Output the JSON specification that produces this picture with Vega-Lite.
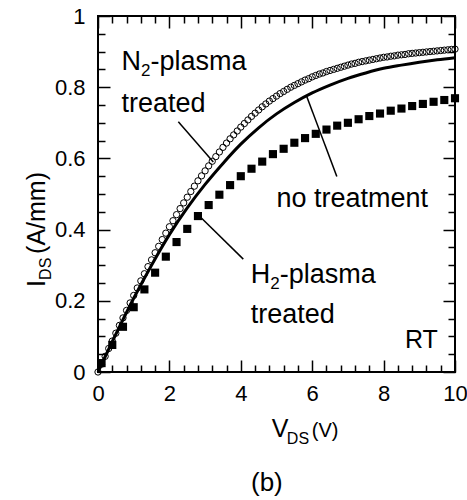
{
  "$schema": "https://vega.github.io/schema/vega-lite/v6.json",
  "width": 357,
  "height": 356,
  "autosize": "none",
  "padding": {"left": 98, "top": 16, "right": 12, "bottom": 128},
  "background": "white",
  "config": {
    "view": {"stroke": "black", "strokeWidth": 2, "fill": "transparent"},
    "axis": {"grid": false, "domain": true, "domainColor": "black", "domainWidth": 2, "ticks": true, "tickColor": "black", "tickWidth": 1.5, "tickOpacity": 1, "labelColor": "black", "labelFont": "Liberation Sans", "labelFontSize": 22, "labelFlush": false, "zindex": 1},
    "text": {"font": "Liberation Sans", "color": "black"}
  },
  "datasets": {
    "n2": [{"V":0,"I":0},{"V":0.1,"I":0.022},{"V":0.2,"I":0.044},{"V":0.3,"I":0.066},{"V":0.4,"I":0.087},{"V":0.5,"I":0.109},{"V":0.6,"I":0.131},{"V":0.7,"I":0.152},{"V":0.8,"I":0.173},{"V":0.9,"I":0.194},{"V":1,"I":0.215},{"V":1.1,"I":0.236},{"V":1.2,"I":0.256},{"V":1.3,"I":0.276},{"V":1.4,"I":0.296},{"V":1.5,"I":0.315},{"V":1.6,"I":0.335},{"V":1.7,"I":0.353},{"V":1.8,"I":0.372},{"V":1.9,"I":0.39},{"V":2,"I":0.408},{"V":2.1,"I":0.425},{"V":2.2,"I":0.442},{"V":2.3,"I":0.459},{"V":2.4,"I":0.475},{"V":2.5,"I":0.491},{"V":2.6,"I":0.507},{"V":2.7,"I":0.522},{"V":2.8,"I":0.537},{"V":2.9,"I":0.551},{"V":3,"I":0.565},{"V":3.1,"I":0.579},{"V":3.2,"I":0.592},{"V":3.3,"I":0.605},{"V":3.4,"I":0.618},{"V":3.5,"I":0.631},{"V":3.6,"I":0.643},{"V":3.7,"I":0.655},{"V":3.8,"I":0.666},{"V":3.9,"I":0.677},{"V":4,"I":0.688},{"V":4.1,"I":0.698},{"V":4.2,"I":0.708},{"V":4.3,"I":0.718},{"V":4.4,"I":0.727},{"V":4.5,"I":0.736},{"V":4.6,"I":0.745},{"V":4.7,"I":0.753},{"V":4.8,"I":0.761},{"V":4.9,"I":0.768},{"V":5,"I":0.775},{"V":5.1,"I":0.782},{"V":5.2,"I":0.788},{"V":5.3,"I":0.794},{"V":5.4,"I":0.8},{"V":5.5,"I":0.805},{"V":5.6,"I":0.81},{"V":5.7,"I":0.815},{"V":5.8,"I":0.82},{"V":5.9,"I":0.824},{"V":6,"I":0.829},{"V":6.1,"I":0.833},{"V":6.2,"I":0.837},{"V":6.3,"I":0.84},{"V":6.4,"I":0.844},{"V":6.5,"I":0.847},{"V":6.6,"I":0.85},{"V":6.7,"I":0.853},{"V":6.8,"I":0.856},{"V":6.9,"I":0.859},{"V":7,"I":0.862},{"V":7.1,"I":0.865},{"V":7.2,"I":0.867},{"V":7.3,"I":0.87},{"V":7.4,"I":0.872},{"V":7.5,"I":0.874},{"V":7.6,"I":0.876},{"V":7.7,"I":0.878},{"V":7.8,"I":0.88},{"V":7.9,"I":0.882},{"V":8,"I":0.884},{"V":8.1,"I":0.885},{"V":8.2,"I":0.887},{"V":8.3,"I":0.888},{"V":8.4,"I":0.89},{"V":8.5,"I":0.891},{"V":8.6,"I":0.892},{"V":8.7,"I":0.894},{"V":8.8,"I":0.895},{"V":8.9,"I":0.896},{"V":9,"I":0.897},{"V":9.1,"I":0.898},{"V":9.2,"I":0.899},{"V":9.3,"I":0.9},{"V":9.4,"I":0.901},{"V":9.5,"I":0.902},{"V":9.6,"I":0.903},{"V":9.7,"I":0.904},{"V":9.8,"I":0.905},{"V":9.9,"I":0.906},{"V":10,"I":0.907}],
    "none": [{"V":0,"I":0},{"V":0.5,"I":0.106},{"V":1,"I":0.207},{"V":1.5,"I":0.3},{"V":2,"I":0.386},{"V":2.5,"I":0.461},{"V":3,"I":0.527},{"V":3.5,"I":0.586},{"V":4,"I":0.64},{"V":4.5,"I":0.686},{"V":5,"I":0.725},{"V":5.5,"I":0.757},{"V":6,"I":0.784},{"V":6.5,"I":0.806},{"V":7,"I":0.825},{"V":7.5,"I":0.84},{"V":8,"I":0.853},{"V":8.5,"I":0.862},{"V":9,"I":0.87},{"V":9.5,"I":0.877},{"V":10,"I":0.883}],
    "h2": [{"V":0.1,"I":0.025},{"V":0.4,"I":0.076},{"V":0.7,"I":0.127},{"V":1,"I":0.182},{"V":1.3,"I":0.232},{"V":1.6,"I":0.279},{"V":1.9,"I":0.324},{"V":2.2,"I":0.365},{"V":2.5,"I":0.402},{"V":2.8,"I":0.438},{"V":3.1,"I":0.469},{"V":3.4,"I":0.498},{"V":3.7,"I":0.525},{"V":4,"I":0.55},{"V":4.3,"I":0.571},{"V":4.6,"I":0.591},{"V":4.9,"I":0.612},{"V":5.2,"I":0.627},{"V":5.5,"I":0.644},{"V":5.8,"I":0.657},{"V":6.1,"I":0.669},{"V":6.4,"I":0.681},{"V":6.7,"I":0.692},{"V":7,"I":0.7},{"V":7.3,"I":0.71},{"V":7.6,"I":0.719},{"V":7.9,"I":0.726},{"V":8.2,"I":0.734},{"V":8.5,"I":0.74},{"V":8.8,"I":0.747},{"V":9.1,"I":0.753},{"V":9.4,"I":0.759},{"V":9.7,"I":0.764},{"V":10,"I":0.769}]
  },
  "resolve": {"axis": {"x": "independent", "y": "independent"}},
  "layer": [
    {
      "data": {"name": "n2"},
      "mark": {"type": "point", "shape": "circle", "filled": false, "stroke": "black", "strokeWidth": 1, "size": 40, "opacity": 1},
      "encoding": {
        "x": {"field": "V", "type": "quantitative", "scale": {"domain": [0, 10], "nice": false}, "axis": {"orient": "bottom", "values": [0, 2, 4, 6, 8, 10], "offset": -12, "domain": false, "tickSize": 12, "labelPadding": 11, "format": "d", "title": null}},
        "y": {"field": "I", "type": "quantitative", "scale": {"domain": [0, 1], "nice": false}, "axis": {"orient": "left", "values": [0, 0.2, 0.4, 0.6, 0.8, 1], "offset": -12, "domain": false, "tickSize": 12, "labelPadding": 13, "format": "~g", "title": null}}
      }
    },
    {
      "data": {"name": "none"},
      "mark": {"type": "line", "color": "black", "strokeWidth": 3, "interpolate": "monotone"},
      "encoding": {
        "x": {"field": "V", "type": "quantitative", "scale": {"domain": [0, 10], "nice": false}, "axis": {"orient": "bottom", "values": [0.4,0.8,1.2,1.6,2.4,2.8,3.2,3.6,4.4,4.8,5.2,5.6,6.4,6.8,7.2,7.6,8.4,8.8,9.2,9.6], "offset": -7, "domain": false, "tickSize": 7, "labels": false, "title": null}},
        "y": {"field": "I", "type": "quantitative", "scale": {"domain": [0, 1], "nice": false}, "axis": {"orient": "left", "values": [0.05,0.1,0.15,0.25,0.3,0.35,0.45,0.5,0.55,0.65,0.7,0.75,0.85,0.9,0.95], "offset": -7, "domain": false, "tickSize": 7, "labels": false, "title": null}}
      }
    },
    {
      "data": {"name": "h2"},
      "mark": {"type": "square", "color": "black", "filled": true, "size": 66, "opacity": 1},
      "encoding": {
        "x": {"field": "V", "type": "quantitative", "scale": {"domain": [0, 10], "nice": false}, "axis": {"orient": "top", "values": [0, 2, 4, 6, 8, 10], "offset": -12, "domain": false, "tickSize": 12, "labels": false, "title": null}},
        "y": {"field": "I", "type": "quantitative", "scale": {"domain": [0, 1], "nice": false}, "axis": {"orient": "right", "values": [0, 0.2, 0.4, 0.6, 0.8, 1], "offset": -12, "domain": false, "tickSize": 12, "labels": false, "title": null}}
      }
    },
    {
      "data": {"values": [{}]},
      "mark": {"type": "rule", "color": "black", "strokeWidth": 1.5},
      "encoding": {
        "x": {"datum": 2.25, "type": "quantitative", "axis": {"orient": "top", "values": [0.4,0.8,1.2,1.6,2.4,2.8,3.2,3.6,4.4,4.8,5.2,5.6,6.4,6.8,7.2,7.6,8.4,8.8,9.2,9.6], "offset": -7, "domain": false, "tickSize": 7, "labels": false, "title": null}},
        "y": {"datum": 0.703, "type": "quantitative", "axis": {"orient": "right", "values": [0.05,0.1,0.15,0.25,0.3,0.35,0.45,0.5,0.55,0.65,0.7,0.75,0.85,0.9,0.95], "offset": -7, "domain": false, "tickSize": 7, "labels": false, "title": null}},
        "x2": {"datum": 3.23},
        "y2": {"datum": 0.59}
      }
    },
    {
      "data": {"values": [{}]},
      "mark": {"type": "rule", "color": "black", "strokeWidth": 1.5},
      "encoding": {"x": {"datum": 5.85, "type": "quantitative", "axis": null}, "y": {"datum": 0.773, "type": "quantitative", "axis": null}, "x2": {"datum": 6.69}, "y2": {"datum": 0.549}}
    },
    {
      "data": {"values": [{}]},
      "mark": {"type": "rule", "color": "black", "strokeWidth": 1.5},
      "encoding": {"x": {"datum": 2.86, "type": "quantitative", "axis": null}, "y": {"datum": 0.436, "type": "quantitative", "axis": null}, "x2": {"datum": 4.07}, "y2": {"datum": 0.317}}
    },
    {
      "data": {"values": [{}]},
      "layer": [
        {"mark": {"type": "text", "text": "N", "fontSize": 27, "align": "left", "baseline": "alphabetic"}},
        {"mark": {"type": "text", "text": "2", "fontSize": 17, "align": "left", "baseline": "alphabetic", "dx": 19.5, "dy": 6}},
        {"mark": {"type": "text", "text": "-plasma", "fontSize": 27, "align": "left", "baseline": "alphabetic", "dx": 29}}
      ],
      "encoding": {"x": {"datum": 0.66, "type": "quantitative", "axis": null}, "y": {"datum": 0.848, "type": "quantitative", "axis": null}}
    },
    {
      "data": {"values": [{}]},
      "mark": {"type": "text", "text": "treated", "fontSize": 27, "align": "left", "baseline": "alphabetic"},
      "encoding": {"x": {"datum": 0.66, "type": "quantitative", "axis": null}, "y": {"datum": 0.73, "type": "quantitative", "axis": null}}
    },
    {
      "data": {"values": [{}]},
      "mark": {"type": "text", "text": "no treatment", "fontSize": 27, "align": "left", "baseline": "alphabetic"},
      "encoding": {"x": {"datum": 5.0, "type": "quantitative", "axis": null}, "y": {"datum": 0.464, "type": "quantitative", "axis": null}}
    },
    {
      "data": {"values": [{}]},
      "layer": [
        {"mark": {"type": "text", "text": "H", "fontSize": 27, "align": "left", "baseline": "alphabetic"}},
        {"mark": {"type": "text", "text": "2", "fontSize": 17, "align": "left", "baseline": "alphabetic", "dx": 19.5, "dy": 6}},
        {"mark": {"type": "text", "text": "-plasma", "fontSize": 27, "align": "left", "baseline": "alphabetic", "dx": 29}}
      ],
      "encoding": {"x": {"datum": 4.28, "type": "quantitative", "axis": null}, "y": {"datum": 0.249, "type": "quantitative", "axis": null}}
    },
    {
      "data": {"values": [{}]},
      "mark": {"type": "text", "text": "treated", "fontSize": 27, "align": "left", "baseline": "alphabetic"},
      "encoding": {"x": {"datum": 4.28, "type": "quantitative", "axis": null}, "y": {"datum": 0.139, "type": "quantitative", "axis": null}}
    },
    {
      "data": {"values": [{}]},
      "mark": {"type": "text", "text": "RT", "fontSize": 25, "align": "right", "baseline": "alphabetic"},
      "encoding": {"x": {"datum": 9.52, "type": "quantitative", "axis": null}, "y": {"datum": 0.067, "type": "quantitative", "axis": null}}
    },
    {
      "data": {"values": [{}]},
      "layer": [
        {"mark": {"type": "text", "text": "V", "fontSize": 25, "align": "left", "baseline": "alphabetic"}},
        {"mark": {"type": "text", "text": "DS", "fontSize": 16, "align": "left", "baseline": "alphabetic", "dx": 15, "dy": 7}},
        {"mark": {"type": "text", "text": "(V)", "fontSize": 20, "align": "left", "baseline": "alphabetic", "dx": 40}}
      ],
      "encoding": {"x": {"datum": 4.87, "type": "quantitative", "axis": null}, "y": {"datum": -0.183, "type": "quantitative", "axis": null}}
    },
    {
      "data": {"values": [{}]},
      "layer": [
        {"mark": {"type": "text", "text": "I", "fontSize": 25, "align": "left", "baseline": "alphabetic", "angle": 270}},
        {"mark": {"type": "text", "text": "DS", "fontSize": 16, "align": "left", "baseline": "alphabetic", "angle": 270, "dx": 7, "dy": 6}},
        {"mark": {"type": "text", "text": "(A/mm)", "fontSize": 25, "align": "left", "baseline": "alphabetic", "angle": 270, "dx": 33}}
      ],
      "encoding": {"x": {"datum": -1.49, "type": "quantitative", "axis": null}, "y": {"datum": 0.239, "type": "quantitative", "axis": null}}
    },
    {
      "data": {"values": [{}]},
      "mark": {"type": "text", "text": "(b)", "fontSize": 26, "align": "center", "baseline": "alphabetic"},
      "encoding": {"x": {"datum": 4.73, "type": "quantitative", "axis": null}, "y": {"datum": -0.334, "type": "quantitative", "axis": null}}
    }
  ]
}
